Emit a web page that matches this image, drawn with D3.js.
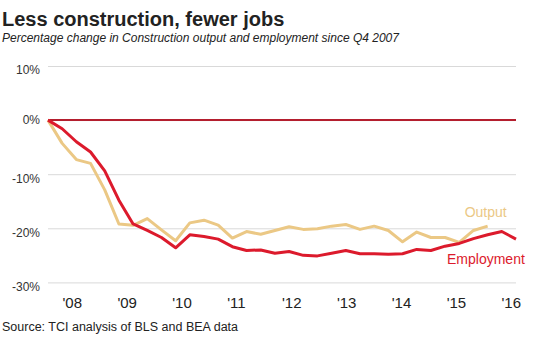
<!DOCTYPE html>
<html>
<head>
<meta charset="utf-8">
<script src="https://cdn.jsdelivr.net/npm/d3@7"></script>
<style>
  body { margin: 0; background: #fff; }
  svg { display: block; font-family: "Liberation Sans", Arial, sans-serif; }
</style>
</head>
<body>
<svg id="chart" width="540" height="339"></svg>
<script>
const quarters = ["2007Q4",
  "2008Q1", "2008Q2", "2008Q3", "2008Q4",
  "2009Q1", "2009Q2", "2009Q3", "2009Q4",
  "2010Q1", "2010Q2", "2010Q3", "2010Q4",
  "2011Q1", "2011Q2", "2011Q3", "2011Q4",
  "2012Q1", "2012Q2", "2012Q3", "2012Q4",
  "2013Q1", "2013Q2", "2013Q3", "2013Q4",
  "2014Q1", "2014Q2", "2014Q3", "2014Q4",
  "2015Q1", "2015Q2", "2015Q3", "2015Q4",
  "2016Q1"];

const output = [0, -4.3, -7.3, -8.0, -12.9, -19.2, -19.45, -18.2, -20.3, -22.3,
  -19.0, -18.5, -19.4, -21.8, -20.6, -21.1, -20.4, -19.7, -20.2, -20.1,
  -19.6, -19.3, -20.2, -19.6, -20.4, -22.5, -20.7, -21.7, -21.7, -22.6,
  -20.4, -19.6];

const employment = [0, -1.6, -4.0, -5.9, -9.4, -14.8, -19.2, -20.4, -21.7, -23.6,
  -21.2, -21.5, -22.0, -23.4, -24.1, -24.0, -24.6, -24.3, -25.0, -25.1,
  -24.6, -24.1, -24.7, -24.7, -24.8, -24.7, -23.9, -24.1, -23.3, -22.8,
  -21.9, -21.2, -20.6, -22.0];

const yearLabels = ["'08", "'09", "'10", "'11", "'12", "'13", "'14", "'15", "'16"];
const yTicks = [10, 0, -10, -20, -30];

const red = "#dc1a2c", tan = "#ebc885";

const svg = d3.select("#chart");

const x = d3.scalePoint().domain(quarters).range([48, 516]);
const y = d3.scaleLinear().domain([-30, 10]).range([282.4, 66]);
const xYear = d3.scalePoint().domain(yearLabels).range([62, 501]);

// title
svg.append("text")
  .attr("x", 2).attr("y", 26)
  .style("font-size", "20px").style("font-weight", "bold").attr("fill", "#222")
  .text("Less construction, fewer jobs");
svg.append("text")
  .attr("x", 2).attr("y", 42)
  .style("font-size", "12px").style("font-style", "italic").attr("fill", "#222")
  .text("Percentage change in Construction output and employment since Q4 2007");

// grid + y labels
const yAxis = svg.append("g")
  .attr("transform", "translate(48,0)")
  .call(d3.axisLeft(y).tickValues(yTicks).tickSize(-468).tickFormat(d => d + "%"));
yAxis.select(".domain").remove();
yAxis.selectAll(".tick line").attr("stroke", "#d9d9d9");
yAxis.selectAll(".tick text")
  .attr("x", -8)
  .attr("dy", d => d === 0 ? "0.32em" : "0.65em")
  .attr("fill", "#333")
  .style("font-size", "12px")
  .style("font-family", "'Liberation Sans', Arial, sans-serif");

// zero line
svg.append("line")
  .attr("x1", 48).attr("x2", 516)
  .attr("y1", y(0)).attr("y2", y(0))
  .attr("stroke", "#b41e2e").attr("stroke-width", 2);

// x labels
const xAxis = svg.append("g")
  .attr("transform", "translate(0,308)")
  .call(d3.axisBottom(xYear).tickSize(0));
xAxis.select(".domain").remove();
xAxis.selectAll(".tick text")
  .attr("y", 0).attr("dy", 0)
  .attr("text-anchor", "start")
  .attr("fill", "#222")
  .style("font-size", "15px")
  .style("font-family", "'Liberation Sans Narrow', 'Arial Narrow', 'Liberation Sans', sans-serif");

const line = d3.line()
  .x((d, i) => x(quarters[i]))
  .y(d => y(d));

svg.append("path")
  .datum(output)
  .attr("fill", "none")
  .attr("stroke", tan)
  .attr("stroke-width", 3)
  .attr("stroke-linejoin", "round")
  .attr("d", line);

svg.append("path")
  .datum(employment)
  .attr("fill", "none")
  .attr("stroke", red)
  .attr("stroke-width", 3)
  .attr("stroke-linejoin", "round")
  .attr("d", line);

// series labels
const lastOut = output.length - 1;
svg.append("text")
  .attr("x", x(quarters[lastOut]) - 23)
  .attr("y", y(output[lastOut]) - 9)
  .style("font-size", "14px").attr("fill", tan)
  .text("Output");

const lastEmp = employment.length - 1;
svg.append("text")
  .attr("x", x(quarters[lastEmp]) - 69)
  .attr("y", y(employment[lastEmp]) + 25)
  .style("font-size", "14px").attr("fill", red)
  .text("Employment");

// source
svg.append("text")
  .attr("x", 2).attr("y", 331)
  .style("font-size", "12.5px").attr("fill", "#222")
  .text("Source: TCI analysis of BLS and BEA data");
</script>
</body>
</html>
